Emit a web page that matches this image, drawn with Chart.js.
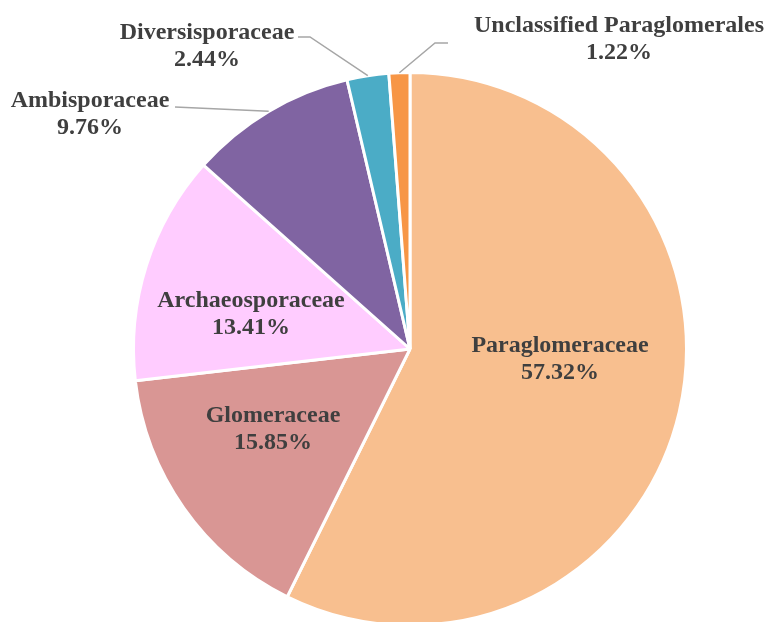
<!DOCTYPE html>
<html>
<head>
<meta charset="utf-8">
<script src="https://cdn.jsdelivr.net/npm/chart.js@4.4.1/dist/chart.umd.min.js"></script>
<style>
  html, body { margin: 0; padding: 0; background: #fff; overflow: hidden; }
  #wrap { position: relative; width: 766px; height: 630px; }
</style>
</head>
<body>
<div id="wrap"><canvas id="pie"></canvas></div>
<script>
const families = ['Paraglomeraceae', 'Glomeraceae', 'Archaeosporaceae', 'Ambisporaceae', 'Diversisporaceae', 'Unclassified Paraglomerales'];
const shares = [57.32, 15.85, 13.41, 9.76, 2.44, 1.22];
const colors = ['#F8BF8F', '#D99694', '#FFCCFF', '#8064A2', '#4BACC6', '#F79646'];

// label placement, offsets from pie centre (x = text centre, y = first baseline)
const labelOffsets = [
  [150, 3], [-137, 73], [-159, -42], [-320, -242], [-203, -310], [209, -317]
];
// leader line elbows (null = label sits inside the slice)
const leaderPts = [
  null, null, null,
  [[-235, -242]],
  [[-100, -312], [-112, -312]],
  [[25, -306], [38, -306]]
];

const labelPlugin = {
  id: 'pieLabels',
  afterDatasetsDraw(chart) {
    const ctx = chart.ctx;
    const arcs = chart.getDatasetMeta(0).data;
    const cx = arcs[0].x, cy = arcs[0].y;
    ctx.save();
    arcs.forEach((arc, i) => {
      if (leaderPts[i]) {
        const mid = (arc.startAngle + arc.endAngle) / 2;
        const r = arc.outerRadius;
        ctx.beginPath();
        ctx.moveTo(cx + Math.cos(mid) * r, cy + Math.sin(mid) * r);
        leaderPts[i].forEach(p => ctx.lineTo(cx + p[0], cy + p[1]));
        ctx.strokeStyle = '#A6A6A6';
        ctx.lineWidth = 1.5;
        ctx.stroke();
      }
      const lx = cx + labelOffsets[i][0], ly = cy + labelOffsets[i][1];
      ctx.font = 'bold 24px "Liberation Serif", "Times New Roman", serif';
      ctx.fillStyle = '#3F3F3F';
      ctx.textAlign = 'center';
      ctx.textBaseline = 'alphabetic';
      ctx.fillText(families[i], lx, ly);
      ctx.fillText(shares[i].toFixed(2) + '%', lx, ly + 27);
    });
    ctx.restore();
  }
};

new Chart(document.getElementById('pie').getContext('2d'), {
  type: 'pie',
  data: {
    labels: families,
    datasets: [{
      data: shares,
      backgroundColor: colors,
      borderColor: '#ffffff',
      borderWidth: 3
    }]
  },
  options: {
    responsive: true,
    maintainAspectRatio: false,
    animation: false,
    layout: { padding: { left: 54, right: 0, top: 71, bottom: 3 } },
    plugins: {
      legend: { display: false },
      tooltip: { enabled: false }
    }
  },
  plugins: [labelPlugin]
});
</script>
</body>
</html>
